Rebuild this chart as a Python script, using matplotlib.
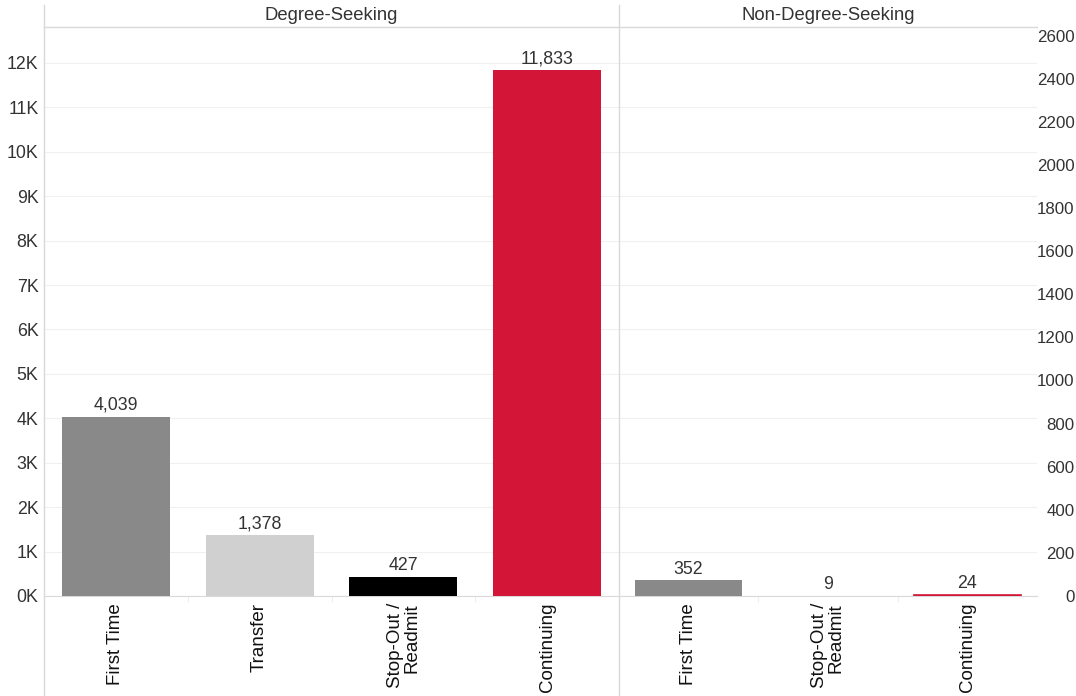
import matplotlib
matplotlib.use("Agg")
import matplotlib.pyplot as plt
from matplotlib.lines import Line2D
import numpy as np

plt.rcParams['font.family'] = ['Liberation Sans', 'DejaVu Sans']

# data
deg_cats = ["First Time", "Transfer", "Stop-Out /\nReadmit", "Continuing"]
deg_vals = [4039, 1378, 427, 11833]
deg_colors = ["#898989", "#d0d0d0", "#000000", "#d31638"]

non_cats = ["First Time", "Stop-Out /\nReadmit", "Continuing"]
non_vals = [352, 9, 24]
non_colors = ["#898989", "#000000", "#d31638"]

left_ticks = np.arange(0, 13000, 1000)
right_ticks = np.arange(0, 2800, 200)

W, H = 1076, 696
fig = plt.figure(figsize=(W / 100, H / 100), dpi=100)

x0, xmid, x1 = 44, 619, 1037
ytop, ybot = 27, 596
ax1 = fig.add_axes([x0 / W, (H - ybot) / H, (xmid - x0) / W, (ybot - ytop) / H])
ax2 = fig.add_axes([xmid / W, (H - ybot) / H, (x1 - xmid) / W, (ybot - ytop) / H], sharey=ax1)

grid_c = "#f0f0f0"
line_c = "#d9d9d9"
txt_c = "#333333"
fs = 12.8

for ax, cats, vals, cols, wid, lws in [(ax1, deg_cats, deg_vals, deg_colors, 0.75, [0, 0, 0, 0]),
                                       (ax2, non_cats, non_vals, non_colors, 0.77, [0, 0, 1.2])]:
    xs = np.arange(len(cats))
    ax.bar(xs, vals, width=wid, color=cols, edgecolor=cols, linewidth=lws, zorder=3)
    for x, v in zip(xs, vals):
        ax.annotate(f"{v:,}", (x, v), xytext=(0, 2), textcoords="offset points",
                    ha="center", va="bottom", fontsize=fs, color=txt_c)
    ax.set_xlim(-0.5, len(cats) - 0.5)
    ax.set_xticks(xs)
    ax.set_xticklabels(cats, rotation=90, fontsize=13.5, color="#111111",
                       va="top", ha="center", multialignment="right",
                       linespacing=0.95)
    ax.set_xticks(np.arange(len(cats) - 1) + 0.5, minor=True)
    ax.tick_params(axis="x", which="major", length=0, pad=5)
    ax.tick_params(axis="x", which="minor", length=4, color="#ebebeb")
    ax.set_yticks(left_ticks)
    ax.grid(axis="y", color=grid_c, linewidth=0.8, zorder=0)
    for s in ["top", "right", "left"]:
        ax.spines[s].set_visible(False)
    ax.spines["bottom"].set_color(line_c)
    ax.set_facecolor("none")

ax1.set_ylim(0, 12810)
ax1.set_yticklabels([f"{int(t / 1000)}K" for t in left_ticks])
ax1.tick_params(axis="y", length=0, pad=4, labelsize=fs, labelcolor=txt_c)
ax2.tick_params(axis="y", length=0, labelleft=False)

# secondary axis labels on the right panel
ax3 = ax2.twinx()
ax3.set_ylim(0, 2640)
ax3.set_yticks(right_ticks)
ax3.set_yticklabels([str(t) for t in right_ticks], ha="right")
ax3.tick_params(axis="y", length=0, pad=27, labelsize=12.2, labelcolor=txt_c)
for s in ax3.spines.values():
    s.set_visible(False)

# panel frame lines and headers
def fline(xa, ya, xb, yb):
    fig.add_artist(Line2D([xa / W, xb / W], [1 - ya / H, 1 - yb / H],
                          color=line_c, linewidth=1, transform=fig.transFigure))

fline(x0, 5, x0, H)
fline(xmid, 5, xmid, H)
fline(x0, ytop, x1, ytop)

fig.text((x0 + xmid) / 2 / W, 1 - 16 / H, "Degree-Seeking", ha="center", va="center",
         fontsize=13.3, color=txt_c)
fig.text((xmid + x1) / 2 / W, 1 - 16 / H, "Non-Degree-Seeking", ha="center", va="center",
         fontsize=13.3, color=txt_c)

fig.savefig("out.png", dpi=100)
